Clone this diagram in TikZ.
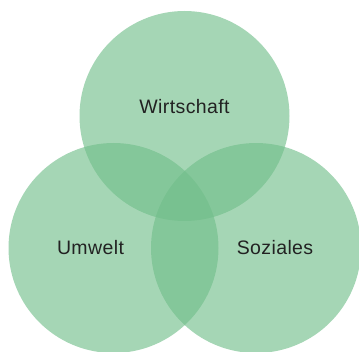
\documentclass[tikz,border=0pt]{standalone}
\usepackage{fontspec}
\setmainfont{Liberation Sans}[LetterSpace=2]
\usetikzlibrary{calc}
\definecolor{venngreen}{RGB}{113,190,138}
\definecolor{labelgray}{RGB}{34,34,34}

\begin{document}
\begin{tikzpicture}[x=1pt,y=-1pt]
            \useasboundingbox (0,0) rectangle (359,352);
            \foreach \x/\y/\n in {184.5/116/wi,113.5/248/um,256/248/so} {
            \fill[venngreen,fill opacity=.63] (\x,\y) coordinate (\n) circle (105);}

            \tikzset{lbl/.style={font=\fontsize{19.5}{22}\selectfont,text=labelgray}}
            \node[lbl] (wlabel) at ($(wi)+(0,-9)$) {Wirtschaft};
            \node[lbl] (ulabel) at ($(um)+(-23,0)$) {Umwelt};
            \node[lbl] (slabel) at ($(so)+(19,0)$) {Soziales};
        \end{tikzpicture}
\end{document}
